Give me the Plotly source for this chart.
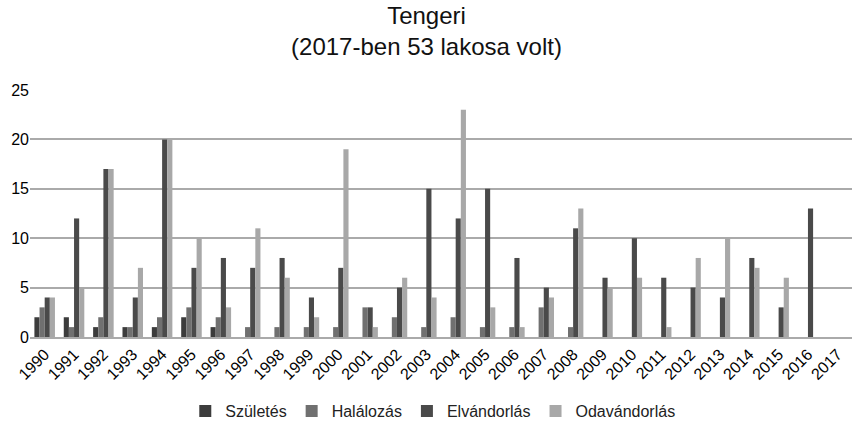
import plotly.graph_objects as go

years = [str(y) for y in range(1990, 2018)]
szuletes =     [2, 2, 1, 1, 1, 2, 1, 0, 0, 0, 0, 0, 0, 0, 0, 0, 0, 0, 0, 0, 0, 0, 0, 0, 0, 0, 0, 0]
halalozas =    [3, 1, 2, 1, 2, 3, 2, 1, 1, 1, 1, 3, 2, 1, 2, 1, 1, 3, 1, 0, 0, 0, 0, 0, 0, 0, 0, 0]
elvandorlas =  [4, 12, 17, 4, 20, 7, 8, 7, 8, 4, 7, 3, 5, 15, 12, 15, 8, 5, 11, 6, 10, 6, 5, 4, 8, 3, 13, 0]
odavandorlas = [4, 5, 17, 7, 20, 10, 3, 11, 6, 2, 19, 1, 6, 4, 23, 3, 1, 4, 13, 5, 6, 1, 8, 10, 7, 6, 0, 0]

names = ["Születés", "Halálozás", "Elvándorlás", "Odavándorlás"]
colors = ["#3c3c3c", "#707070", "#4a4a4a", "#a8a8a8"]
series = [szuletes, halalozas, elvandorlas, odavandorlas]

fig = go.Figure()
for n, c, s in zip(names, colors, series):
    fig.add_trace(go.Bar(x=years, y=s, name=n, marker=dict(color=c, line=dict(width=0))))

font = "Liberation Sans, Arial, sans-serif"
fig.update_layout(
    width=853, height=429,
    margin=dict(l=30, r=1, t=90, b=89),
    paper_bgcolor="white", plot_bgcolor="white",
    barmode="group", bargap=0.3, bargroupgap=0,
    title=dict(text="Tengeri<br>(2017-ben 53 lakosa volt)", x=0.5, xanchor="center",
               y=0.944, yanchor="top", font=dict(family=font, size=24, color="#111")),
    font=dict(family=font, size=14, color="#111"),
    legend=dict(orientation="h", x=0.49, xanchor="center", y=-0.3, yanchor="middle",
                font=dict(size=16, color="#222"), itemwidth=30, traceorder="normal"),
    xaxis=dict(type="category", tickangle=-45, showgrid=False, showline=True,
               linecolor="#aaa", linewidth=1.5, ticks="", tickfont=dict(size=16, color="#000")),
    yaxis=dict(range=[0, 25], dtick=5, showgrid=True, gridcolor="#aaa", gridwidth=1.5,
               zeroline=False, ticks="", tickfont=dict(size=16, color="#000")),
)
fig.write_html("out.html", config={"displayModeBar": False},
               post_script="document.body.style.margin='0';")
